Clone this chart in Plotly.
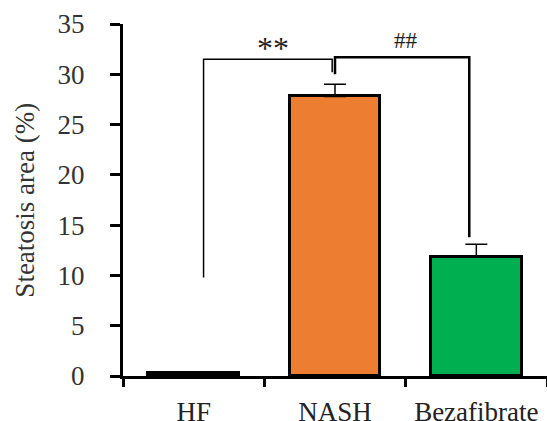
import plotly.graph_objects as go

categories = ["HF", "NASH", "Bezafibrate"]
values = [0.25, 27.8, 11.8]
errors = [0.0, 1.2, 1.3]
bar_colors = ["#FFFFFF", "#ED7D31", "#00B050"]
y_ticks = [0, 5, 10, 15, 20, 25, 30, 35]

# significance brackets (data coords)
sig_labels = ["**", "##"]
sig_label_x = [0.56, 1.5]
sig_label_y = [32.6, 33.4]
sig_label_size = [32, 23]
left_bracket = dict(x0=0.07, x1=0.98, top=31.5, y0_end=9.8, y1_end=30.2)
right_bracket = dict(x0=1.0, x1=1.95, top=31.7, y0_end=30.0, y1_end=13.8)

FONT = "Liberation Serif"
xpos = list(range(len(categories)))

fig = go.Figure()
fig.add_trace(go.Bar(
    x=xpos, y=values, width=0.64,
    marker=dict(color=bar_colors, line=dict(color="black", width=3)),
    error_y=dict(type="data", symmetric=False, array=errors,
                 arrayminus=[0] * len(errors), color="black",
                 thickness=1.5, width=11),
    showlegend=False,
))
# invisible trace to anchor the boundary-tick axis
fig.add_trace(go.Scatter(x=[-0.5, 2.5], y=[0, 0], xaxis="x2", mode="lines",
                         line=dict(width=0), showlegend=False, hoverinfo="skip"))

def bracket(b, w):
    fig.add_shape(type="path",
                  path=f"M {b['x0']},{b['y0_end']} L {b['x0']},{b['top']} L {b['x1']},{b['top']} L {b['x1']},{b['y1_end']}",
                  xref="x", yref="y", line=dict(color="black", width=w))

bracket(left_bracket, 1.5)
bracket(right_bracket, 2.5)

for t, x, y, s in zip(sig_labels, sig_label_x, sig_label_y, sig_label_size):
    fig.add_annotation(x=x, y=y, xref="x", yref="y", text=t, showarrow=False,
                       font=dict(family=FONT, size=s, color="#222"))

fig.add_annotation(x=-0.232, y=0.5, xref="paper", yref="paper",
                   xanchor="center", yanchor="middle",
                   text="Steatosis area (%)", textangle=-90, showarrow=False,
                   font=dict(family=FONT, size=27, color="#333"))

fig.update_layout(
    width=547, height=421,
    margin=dict(l=123, r=0, t=24, b=45),
    paper_bgcolor="white", plot_bgcolor="white",
    bargap=0,
    xaxis=dict(range=[-0.5, 2.5], tickvals=xpos, ticktext=categories,
               ticks="", showline=True, linecolor="black", linewidth=3,
               showgrid=False, zeroline=False, ticklabelstandoff=10,
               automargin=False,
               tickfont=dict(family=FONT, size=27, color="#222")),
    xaxis2=dict(range=[-0.5, 2.5], overlaying="x", side="bottom",
                tickvals=[-0.5, 0.5, 1.5, 2.5], showticklabels=False,
                ticks="outside", ticklen=10, tickwidth=3, tickcolor="black",
                showgrid=False, zeroline=False, showline=False,
                automargin=False),
    yaxis=dict(range=[0, 35], tickvals=y_ticks, ticks="outside", ticklen=10,
               tickwidth=3, tickcolor="black", showline=True, linecolor="black",
               linewidth=3, showgrid=False, zeroline=False, ticklabelstandoff=20,
               automargin=False,
               tickfont=dict(family=FONT, size=27, color="#333")),
)

fig.write_html("out.html", config={"displayModeBar": False},
               post_script="document.body.style.margin='0px';document.body.style.overflow='hidden';")
